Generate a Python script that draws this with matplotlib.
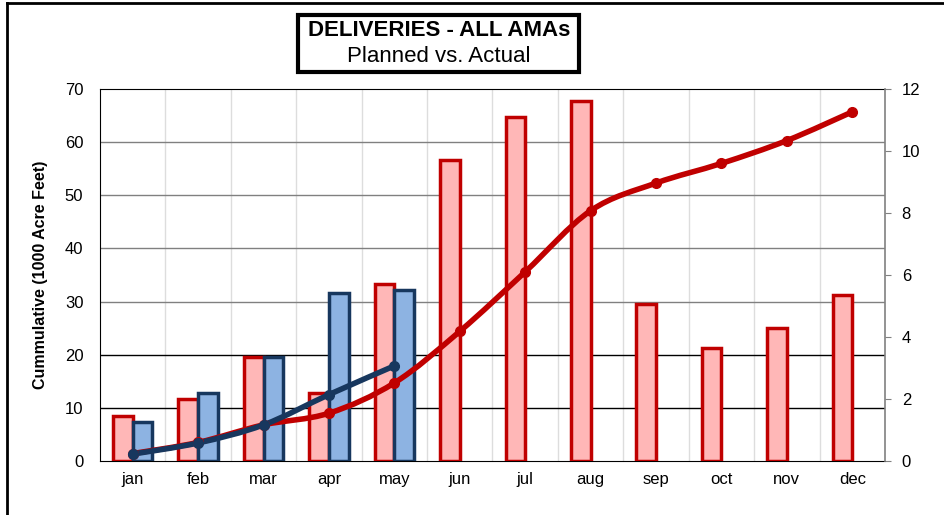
import numpy as np
import matplotlib
matplotlib.use("Agg")
import matplotlib.pyplot as plt
from matplotlib.path import Path
from matplotlib.patches import PathPatch, Rectangle
from matplotlib.lines import Line2D

plt.rcParams['font.family'] = ['Liberation Sans', 'DejaVu Sans']

months = ["jan", "feb", "mar", "apr", "may", "jun", "jul", "aug", "sep", "oct", "nov", "dec"]
# monthly deliveries (right axis)
planned_month = [1.46, 2.00, 3.34, 2.19, 5.71, 9.70, 11.11, 11.62, 5.07, 3.63, 4.29, 5.35]
actual_month = [1.27, 2.19, 3.34, 5.43, 5.52]
# cumulative (left axis)
planned_cum = [1.4, 3.5, 6.8, 9.0, 14.7, 24.4, 35.6, 47.1, 52.3, 56.0, 60.3, 65.7]
actual_cum = [1.3, 3.4, 6.8, 12.5, 17.9]

left_ticks = [0, 10, 20, 30, 40, 50, 60, 70]
right_ticks = [0, 2, 4, 6, 8, 10, 12]

red_edge, red_fill = "#C00000", "#FFB7B7"
blue_edge, blue_fill = "#17375E", "#8DB3E2"


def smooth_path(xs, ys):
    # excel style smoothed line (catmull-rom -> bezier)
    p = np.column_stack([xs, ys]).astype(float)
    verts = [p[0]]
    codes = [Path.MOVETO]
    n = len(p)
    for i in range(n - 1):
        p0 = p[i - 1] if i > 0 else p[i]
        p1 = p[i]
        p2 = p[i + 1]
        p3 = p[i + 2] if i + 2 < n else p[i + 1]
        c1 = p1 + (p2 - p0) / 6.0
        c2 = p2 - (p3 - p1) / 6.0
        verts += [c1, c2, p2]
        codes += [Path.CURVE4] * 3
    return Path(verts, codes)


fig = plt.figure(figsize=(9.45, 5.15), dpi=100)
ax = fig.add_axes([100 / 945, 1 - 461 / 515, 785 / 945, 372 / 515])
ax2 = ax.twinx()
ax3 = ax.twinx()

x = np.arange(len(months))

# background grid on ax
ax.set_xlim(-0.5, 11.5)
ax.set_ylim(0, 70)
ax.set_yticks(left_ticks)
ax.tick_params(axis='y', length=0, labelsize=12, pad=12)
ax.tick_params(axis='x', length=0, labelsize=12, pad=8)
ax.set_xticks(x)
ax.set_xticklabels(months)
for v in left_ticks[1:-1]:
    ax.axhline(v, color="black" if v <= 20 else "#808080", lw=1.0, zorder=1)
for b in np.arange(0.5, 11.5, 1):
    ax.axvline(b, color="#DDDDDD", lw=1.0, zorder=0.5)
ax.set_ylabel("Cummulative (1000 Acre Feet)", fontsize=11.5, fontweight="bold", labelpad=12)
ax.spines['left'].set_color("black")
ax.spines['top'].set_color("black")
ax.spines['bottom'].set_color("black")
ax.spines['right'].set_visible(False)

# bars on right axis
w = 0.3
ax2.bar(x - w / 2, planned_month, width=w, color=red_fill, edgecolor=red_edge, linewidth=2.5, zorder=2)
ax2.bar(x[:len(actual_month)] + w / 2, actual_month, width=w, color=blue_fill, edgecolor=blue_edge,
        linewidth=2.5, zorder=2)
ax2.set_ylim(0, 12)
ax2.set_yticks(right_ticks)
ax2.tick_params(axis='y', length=4, color="#808080", labelsize=12, pad=8)
for s in ['left', 'top', 'bottom']:
    ax2.spines[s].set_visible(False)
ax2.spines['right'].set_color("#808080")
ax2.spines['right'].set_linewidth(1.2)

# cumulative lines
ax3.set_ylim(0, 70)
ax3.set_xlim(-0.5, 11.5)
ax3.axis('off')
ax3.add_patch(PathPatch(smooth_path(x, planned_cum), facecolor="none", edgecolor=red_edge, lw=4,
                        capstyle='round', joinstyle='round'))
ax3.plot(x, planned_cum, 'o', color=red_edge, markersize=7)
ax3.add_patch(PathPatch(smooth_path(x[:len(actual_cum)], actual_cum), facecolor="none", edgecolor=blue_edge,
                        lw=4, capstyle='round', joinstyle='round'))
ax3.plot(x[:len(actual_cum)], actual_cum, 'o', color=blue_edge, markersize=7)

# title box
fig.patches.append(Rectangle((298 / 945, 1 - 72 / 515), 281 / 945, 57 / 515, transform=fig.transFigure,
                             facecolor="white", edgecolor="black", lw=3))
fig.text(439 / 945, 1 - 31 / 515, "DELIVERIES - ALL AMAs", ha="center", va="center", fontsize=16,
         fontweight="bold")
fig.text(439 / 945, 1 - 57 / 515, "Planned vs. Actual", ha="center", va="center", fontsize=16)

# outer frame
fig.lines.append(Line2D([7 / 945, 7 / 945], [0, 1 - 3 / 515], transform=fig.transFigure, color="black", lw=2))
fig.lines.append(Line2D([7 / 945, 1], [1 - 3 / 515, 1 - 3 / 515], transform=fig.transFigure, color="black", lw=2))

fig.savefig("out.png", dpi=100)
